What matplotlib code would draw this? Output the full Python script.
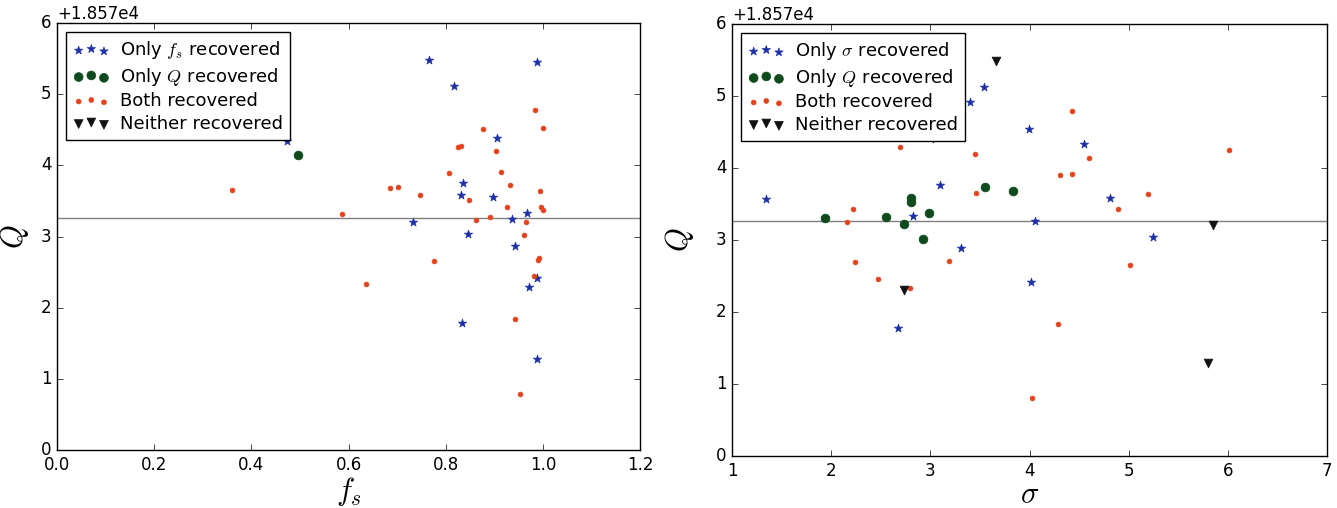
import matplotlib as mpl
mpl.use('Agg')
import matplotlib.pyplot as plt
import numpy as np

plt.style.use('classic')
plt.rcParams['mathtext.fontset'] = 'cm'

Q_OFFSET = 1.857e4
Q_TRUE = 3.26

# --- f_s panel ---
fs_only_fs = [0.473, 0.765, 0.987, 0.818, 0.906, 0.836, 0.831, 0.898, 0.967, 0.936,
              0.733, 0.845, 0.943, 0.987, 0.971, 0.833, 0.988]
q_only_fs = [4.34, 5.48, 5.45, 5.11, 4.39, 3.75, 3.59, 3.56, 3.33, 3.25,
             3.21, 3.04, 2.87, 2.41, 2.29, 1.78, 1.28]
fs_only_q = [0.496]
q_only_q = [4.14]
fs_both = [0.984, 1.000, 0.876, 0.826, 0.831, 0.904, 0.807, 0.913, 0.686, 0.702,
           0.747, 0.933, 0.994, 0.847, 0.927, 0.997, 1.000, 0.586, 0.892, 0.863,
           0.965, 0.962, 0.775, 0.636, 0.990, 0.993, 0.981, 0.943, 0.953, 0.361]
q_both = [4.78, 4.53, 4.51, 4.26, 4.27, 4.20, 3.89, 3.90, 3.68, 3.69,
          3.59, 3.72, 3.64, 3.51, 3.42, 3.42, 3.37, 3.32, 3.28, 3.23,
          3.21, 3.02, 2.66, 2.33, 2.67, 2.70, 2.45, 1.84, 0.79, 3.65]
fs_neither = []
q_neither = []

# --- sigma panel ---
sig_only_sig = [1.34, 3.54, 3.40, 3.99, 4.55, 3.10, 4.81, 2.83, 4.06, 3.31,
                5.25, 4.02, 2.67]
q_only_sig = [3.57, 5.12, 4.91, 4.54, 4.34, 3.76, 3.59, 3.34, 3.26, 2.89,
              3.04, 2.42, 1.78]
sig_only_q = [1.94, 2.55, 2.81, 2.81, 2.73, 2.99, 2.93, 3.55, 3.83]
q_only_q2 = [3.30, 3.32, 3.59, 3.53, 3.22, 3.38, 3.02, 3.73, 3.68]
sig_both = [2.22, 2.16, 3.19, 2.24, 2.47, 2.79, 2.69, 4.43, 4.60, 3.45,
            6.01, 3.46, 4.31, 4.43, 5.19, 4.89, 5.01, 4.29, 4.03]
q_both2 = [3.43, 3.25, 2.71, 2.69, 2.46, 2.33, 4.29, 4.79, 4.14, 4.20,
           4.25, 3.65, 3.90, 3.91, 3.64, 3.43, 2.65, 1.84, 0.80]
sig_neither = [2.73, 3.03, 3.66, 5.85, 5.80]
q_neither2 = [2.31, 4.42, 5.49, 3.21, 1.29]

BLUE = '#1c2fa6'
GREEN = '#0f4a1c'
RED = '#e5421c'
BLACK = '#111111'

fig = plt.figure(figsize=(13.37, 5.08), dpi=100, facecolor='white')
ax1 = fig.add_axes([57 / 1337, 58 / 508, 583 / 1337, 427 / 508])
ax2 = fig.add_axes([732 / 1337, 52 / 508, 595 / 1337, 432 / 508])


def draw_panel(ax, groups, xlim, xticks, xlabel, xlab_y, ylab_x):
    ax.axhline(Q_OFFSET + Q_TRUE, color='#808080', lw=1.0, zorder=1)
    for x, q, marker, color, size, label in groups:
        x = np.asarray(x, dtype=float)
        y = np.asarray(q, dtype=float) + Q_OFFSET
        if x.size == 0:
            # nothing to draw, keep the legend entry
            x = np.array([np.nan])
            y = np.array([np.nan])
        ax.scatter(x, y, marker=marker, c=color, s=size, edgecolors=color,
                   linewidths=0.5, label=label, zorder=3)
    ax.set_xlim(*xlim)
    ax.set_xticks(xticks)
    ax.set_ylim(Q_OFFSET, Q_OFFSET + 6)
    ax.set_yticks(Q_OFFSET + np.arange(0, 7))
    ax.tick_params(labelsize=12)
    ax.yaxis.get_offset_text().set_fontsize(12)
    ax.set_xlabel(xlabel, fontsize=22)
    ax.set_ylabel('$Q$', fontsize=22)
    ax.xaxis.set_label_coords(0.5, xlab_y)
    ax.yaxis.set_label_coords(ylab_x, 0.5)
    leg = ax.legend(loc='upper left', scatterpoints=3, fontsize=13,
                    scatteryoffsets=[0.375, 0.5, 0.3125], borderaxespad=0.5,
                    handletextpad=0.6, labelspacing=0.25)
    leg.get_frame().set_linewidth(1.0)
    leg.set_zorder(5)


draw_panel(ax1, [
    (fs_only_fs, q_only_fs, '*', BLUE, 40, 'Only $f_s$ recovered'),
    (fs_only_q, q_only_q, 'o', GREEN, 40, 'Only $Q$ recovered'),
    (fs_both, q_both, 'o', RED, 12, 'Both recovered'),
    (fs_neither, q_neither, 'v', BLACK, 40, 'Neither recovered'),
], (0, 1.2), np.arange(0, 1.21, 0.2), '$f_s$', -0.058, -0.045)

draw_panel(ax2, [
    (sig_only_sig, q_only_sig, '*', BLUE, 40, 'Only $\\sigma$ recovered'),
    (sig_only_q, q_only_q2, 'o', GREEN, 40, 'Only $Q$ recovered'),
    (sig_both, q_both2, 'o', RED, 12, 'Both recovered'),
    (sig_neither, q_neither2, 'v', BLACK, 40, 'Neither recovered'),
], (1, 7), np.arange(1, 8), '$\\sigma$', -0.055, -0.06)

fig.savefig('out.png', dpi=100, facecolor='white')
